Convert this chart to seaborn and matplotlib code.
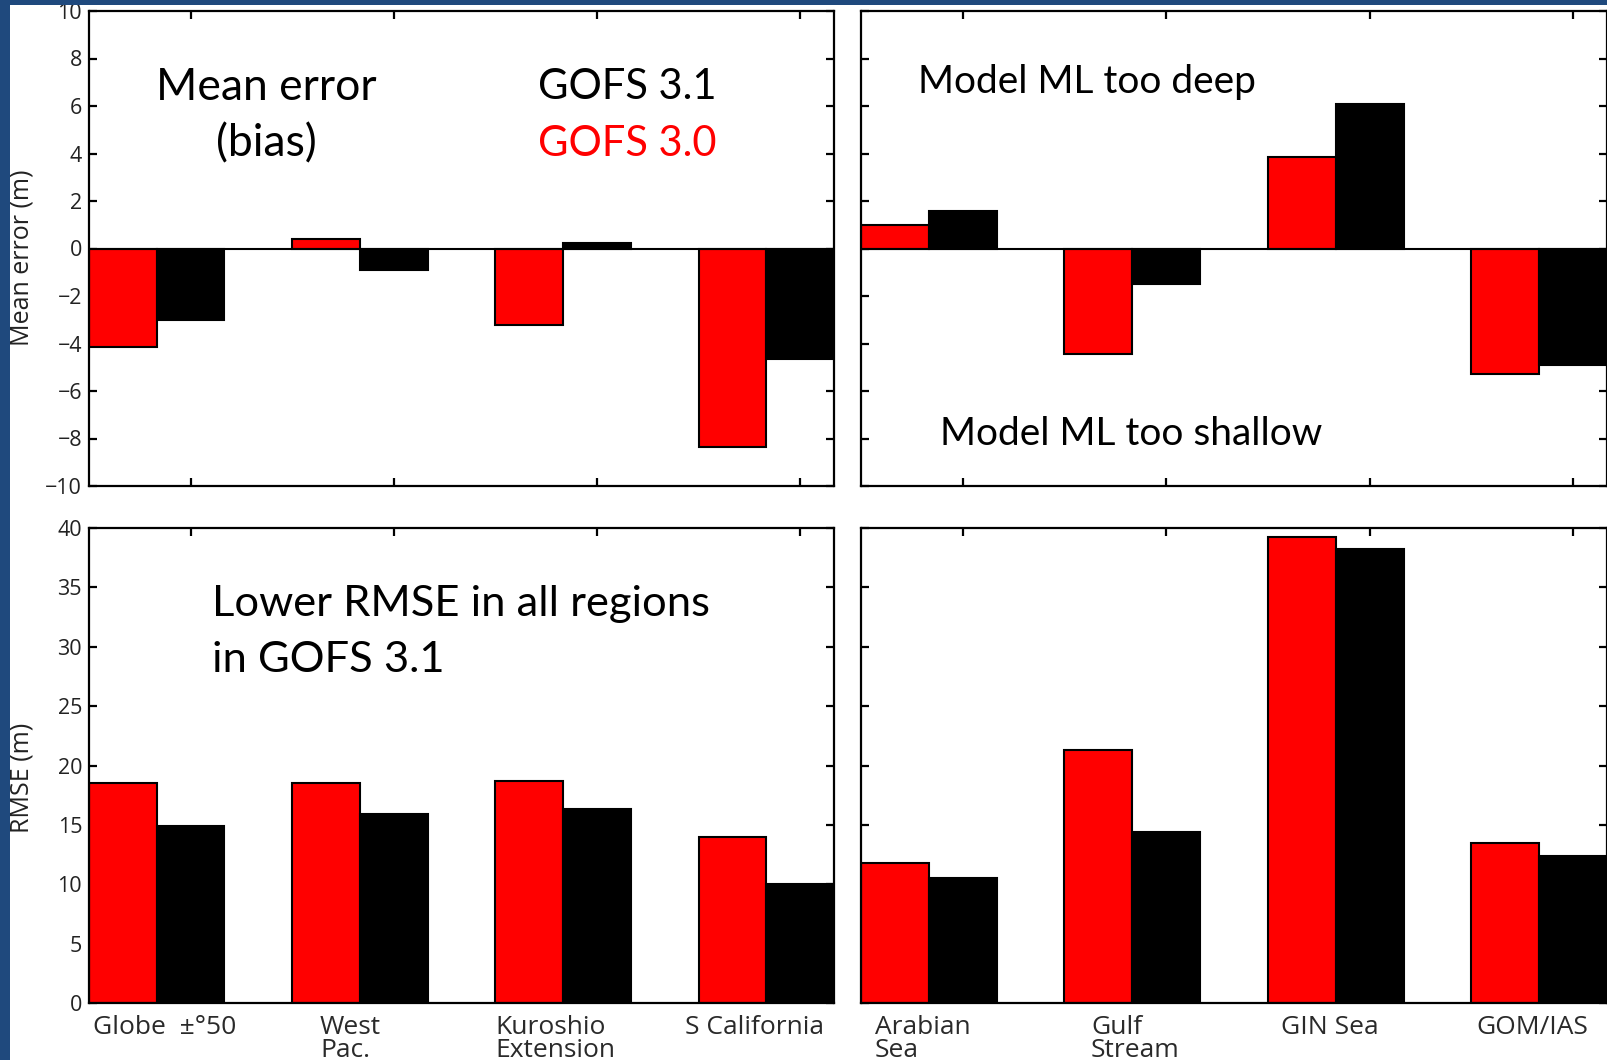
import matplotlib
matplotlib.use("Agg")
import matplotlib.pyplot as plt
from matplotlib.patches import Rectangle
import numpy as np
import pandas as pd
import seaborn as sns

# ---- data -------------------------------------------------------------
regions_left = ["Globe  ±°50", "West\nPac.", "Kuroshio\nExtension", "S California"]
regions_right = ["Arabian\nSea", "Gulf\nStream", "GIN Sea", "GOM/IAS"]
models = ["GOFS 3.0", "GOFS 3.1"]

bias_30_left = [-4.15, 0.4, -3.2, -8.35]
bias_31_left = [-3.0, -0.9, 0.23, -4.65]
bias_30_right = [1.0, -4.45, 3.85, -5.3]
bias_31_right = [1.6, -1.5, 6.1, -4.9]

rmse_30_left = [18.5, 18.5, 18.7, 14.0]
rmse_31_left = [14.9, 15.9, 16.3, 10.0]
rmse_30_right = [11.8, 21.3, 39.2, 13.5]
rmse_31_right = [10.5, 14.4, 38.2, 12.4]

bias_ticks = np.arange(-10, 11, 2)
rmse_ticks = np.arange(0, 41, 5)

# ---- style ------------------------------------------------------------
sns.set_style("ticks")
plt.rcParams["font.family"] = ["Open Sans", "DejaVu Sans"]
ANNOT_FONT = ["Lato", "DejaVu Sans"]
SLIDE_BLUE = "#1F497D"
palette = {"GOFS 3.0": "#FF0000", "GOFS 3.1": "#000000"}

W, H = 1608, 1060
fig = plt.figure(figsize=(W / 100, H / 100), dpi=100)


def axes_at(left, top, right, bottom):
    return fig.add_axes([left / W, 1 - bottom / H, (right - left) / W, (bottom - top) / H])


ax_tl = axes_at(89, 11, 834, 486)
ax_tr = axes_at(861, 11, 1607, 486)
ax_bl = axes_at(89, 528, 834, 1003)
ax_br = axes_at(861, 528, 1607, 1003)


def long_table(regions, v30, v31):
    return pd.DataFrame({
        "region": list(regions) * 2,
        "model": [models[0]] * len(regions) + [models[1]] * len(regions),
        "value": list(v30) + list(v31),
    })


def draw_panel(ax, regions, v30, v31, yticks, ylim, show_ylabels, zero_line):
    df = long_table(regions, v30, v31)
    sns.barplot(data=df, x="region", y="value", hue="model", order=regions,
                hue_order=models, palette=palette, saturation=1, width=2 / 3,
                gap=0, edgecolor="black", linewidth=1.5, errorbar=None,
                legend=False, ax=ax, zorder=2)
    n = len(regions)
    ax.set_xlim(-1 / 3, n - 1 + 1 / 3)
    ax.set_ylim(*ylim)
    ax.set_xticks(np.arange(n) + 1 / 6)
    ax.set_xticklabels([])
    ax.set_yticks(yticks)
    if not show_ylabels:
        ax.set_yticklabels([])
    ax.set_xlabel("")
    ax.set_ylabel("")
    if zero_line:
        ax.axhline(0, color="black", lw=1.5, zorder=3)
    for s in ax.spines.values():
        s.set_visible(True)
        s.set_linewidth(1.6)
        s.set_color("black")
        s.set_zorder(5)
    ax.tick_params(axis="both", which="both", direction="in", length=5.5,
                   width=1.6, top=True, right=True, bottom=True, left=True,
                   labelsize=15.5, pad=5, colors="black", labelcolor="#222222")
    ax.set_facecolor("white")


draw_panel(ax_tl, regions_left, bias_30_left, bias_31_left, bias_ticks, (-10, 10), True, True)
draw_panel(ax_tr, regions_right, bias_30_right, bias_31_right, bias_ticks, (-10, 10), False, True)
draw_panel(ax_bl, regions_left, rmse_30_left, rmse_31_left, rmse_ticks, (0, 40), True, False)
draw_panel(ax_br, regions_right, rmse_30_right, rmse_31_right, rmse_ticks, (0, 40), False, False)

# region names under the lower panels
label_x_left = [-0.314, 0.804, 1.665, 2.60]
label_x_right = [-0.265, 0.797, 1.73, 2.69]
for ax, names, xs in [(ax_bl, regions_left, label_x_left), (ax_br, regions_right, label_x_right)]:
    for name, x in zip(names, xs):
        ax.text(x, -0.026, name, transform=ax.get_xaxis_transform(), ha="left",
                va="top", fontsize=19, linespacing=0.88, color="#2a2a2a",
                clip_on=False)

# axis titles
fig.text(22 / W, 1 - 258 / H, "Mean error (m)", rotation=90, ha="center",
         va="center", fontsize=18, color="#222222")
fig.text(22 / W, 1 - 778 / H, "RMSE (m)", rotation=90, ha="center",
         va="center", fontsize=18, color="#222222")

# panel annotations
def note(ax, x, y, s, size, ha="center", color="black"):
    ax.text(x, y, s, transform=ax.transAxes, ha=ha, va="center",
            fontsize=size, family=ANNOT_FONT, color=color)


note(ax_tl, 0.238, 0.840, "Mean error", 32)
note(ax_tl, 0.238, 0.721, "(bias)", 32)
note(ax_tl, 0.722, 0.839, "GOFS 3.1", 30, color=palette["GOFS 3.1"])
note(ax_tl, 0.722, 0.720, "GOFS 3.0", 30, color=palette["GOFS 3.0"])
note(ax_tr, 0.303, 0.850, "Model ML too deep", 28)
note(ax_tr, 0.362, 0.110, "Model ML too shallow", 28)
note(ax_bl, 0.165, 0.841, "Lower RMSE in all regions", 31.3, ha="left")
note(ax_bl, 0.165, 0.722, "in GOFS 3.1", 31.3, ha="left")

# slide frame along the top and left edges
fig.add_artist(Rectangle((0, 1 - 5 / H), 1, 5 / H, transform=fig.transFigure,
                         facecolor=SLIDE_BLUE, edgecolor="none", zorder=20))
fig.add_artist(Rectangle((0, 0), 10 / W, 1, transform=fig.transFigure,
                         facecolor=SLIDE_BLUE, edgecolor="none", zorder=20))

fig.savefig("out.png", dpi=100, facecolor="white")
